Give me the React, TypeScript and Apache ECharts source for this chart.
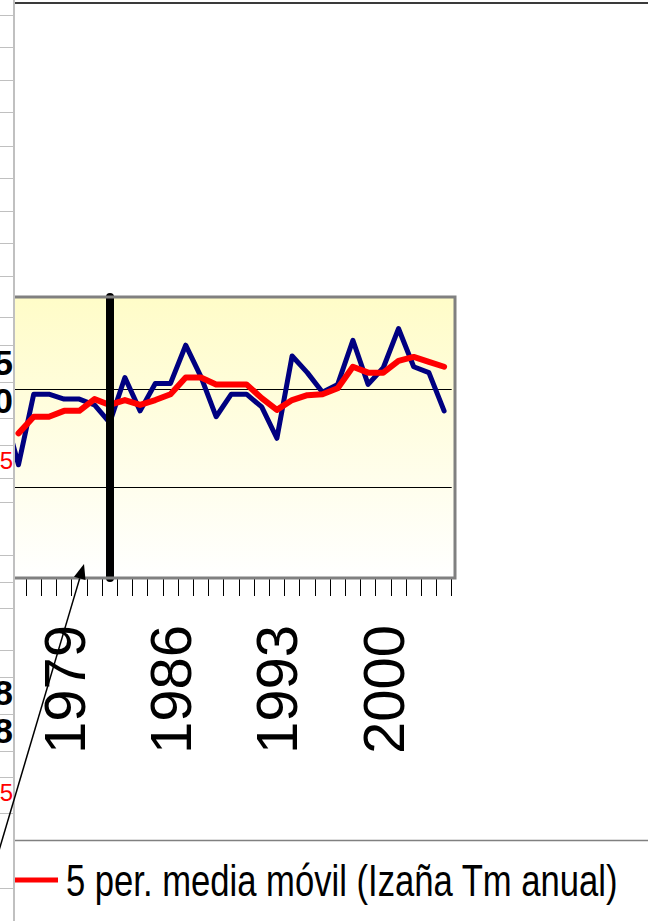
import React, { useEffect, useRef } from "react";
import * as echarts from "echarts";

// Years on the category axis (1975 sits under the frozen spreadsheet column)
const years = [
  "1975", "1976", "1977", "1978", "1979", "1980", "1981", "1982", "1983", "1984",
  "1985", "1986", "1987", "1988", "1989", "1990", "1991", "1992", "1993", "1994",
  "1995", "1996", "1997", "1998", "1999", "2000", "2001", "2002", "2003", "2004",
];

// Izaña annual mean temperature (°C)
const tmAnual = [
  9.8, 9.23, 9.95, 9.95, 9.9, 9.9, 9.84, 9.66, 10.12, 9.78,
  10.06, 10.06, 10.45, 10.13, 9.72, 9.95, 9.95, 9.82, 9.5, 10.34,
  10.17, 9.97, 10.05, 10.5, 10.05, 10.22, 10.62, 10.23, 10.17, 9.78,
];

// 5-period moving average
const mediaMovil = [
  null, 9.55, 9.72, 9.72, 9.78, 9.78, 9.9, 9.84, 9.89, 9.84,
  9.89, 9.95, 10.12, 10.12, 10.05, 10.05, 10.05, 9.91, 9.79, 9.89,
  9.94, 9.95, 10.01, 10.23, 10.17, 10.17, 10.29, 10.33, 10.28, 10.23,
];

const yearLabels = ["1979", "1986", "1993", "2000"];
const gridValues = [9, 10];
const markedYear = "1982";

const blueName = "Izaña Tm anual";
const redName = "5 per. media móvil (Izaña Tm anual)";

// Spreadsheet row boundaries in the frozen column
const rowLines = [
  15, 47, 80, 112, 146, 178, 211, 243, 276, 317, 345, 382, 418, 445, 478, 502,
  555, 582, 608, 650, 677, 714, 751, 777, 813, 888,
];

// Clipped cell contents visible in the frozen column
const cellTexts = [
  { text: "5", y: 362, bold: true, red: false },
  { text: "0", y: 400, bold: true, red: false },
  { text: "5", y: 460, bold: false, red: true },
  { text: "8", y: 692, bold: true, red: false },
  { text: "8", y: 730, bold: true, red: false },
  { text: "5", y: 792, bold: false, red: true },
];

// The chart canvas starts left of the window so the first year can hide under the frozen column
const OX = 20;

export default function App() {
  const ref = useRef<HTMLDivElement>(null);

  useEffect(() => {
    if (!ref.current) return;
    const chart = echarts.init(ref.current, null, { renderer: "svg" });

    const graphics: any[] = [
      // plot area fill and frame
      {
        type: "rect",
        shape: { x: OX, y: 297, width: 455, height: 281 },
        style: {
          fill: new echarts.graphic.LinearGradient(0, 0, 0, 1, [
            { offset: 0, color: "#FFFCC8" },
            { offset: 1, color: "#FFFFFF" },
          ]),
        },
        z: -10,
      },
      {
        type: "rect",
        shape: { x: OX, y: 297, width: 455, height: 281 },
        style: { fill: "none", stroke: "#808080", lineWidth: 3 },
        z: 50,
      },
      { type: "rect", shape: { x: 0, y: 0, width: OX + 13, height: 921 }, style: { fill: "#ffffff" }, z: 100 },
      { type: "line", shape: { x1: OX + 14, y1: 0, x2: OX + 14, y2: 921 }, style: { stroke: "#c0c0c0", lineWidth: 2 }, z: 101 },
      ...rowLines.map((y) => ({
        type: "line",
        shape: { x1: OX, y1: y + 0.5, x2: OX + 13, y2: y + 0.5 },
        style: { stroke: "#c0c0c0", lineWidth: 1 },
        z: 101,
      })),
      ...cellTexts.map((c) => ({
        type: "text",
        x: OX + 13,
        y: c.y,
        style: {
          text: c.text,
          fill: c.red ? "#ff0000" : "#000000",
          font: `${c.bold ? "bold " : ""}${c.bold ? 35 : 24}px 'Liberation Sans', Arial, sans-serif`,
          textAlign: "right",
          textVerticalAlign: "middle",
        },
        z: 102,
      })),
      { type: "line", shape: { x1: OX + 15, y1: 3, x2: OX + 648, y2: 3 }, style: { stroke: "#3a3a3a", lineWidth: 2 }, z: 101 },
      { type: "line", shape: { x1: OX + 15, y1: 840.5, x2: OX + 648, y2: 840.5 }, style: { stroke: "#808080", lineWidth: 1.5 }, z: 101 },
      // legend entry for the moving average
      { type: "line", shape: { x1: OX + 15, y1: 880, x2: OX + 58, y2: 880 }, style: { stroke: "#ff0000", lineWidth: 5 }, z: 101 },
      {
        type: "text",
        x: OX + 66,
        y: 880,
        scaleX: 0.787,
        style: {
          text: redName,
          fill: "#000000",
          font: "44px 'Liberation Sans', Arial, sans-serif",
          textAlign: "left",
          textVerticalAlign: "middle",
        },
        z: 101,
      },
      // annotation arrow
      { type: "line", shape: { x1: OX - 4, y1: 860.5, x2: OX + 79.7, y2: 578.4 }, style: { stroke: "#000000", lineWidth: 1.5 }, z: 110 },
      {
        type: "polygon",
        shape: { points: [[OX + 84, 564], [OX + 85.5, 580.1], [OX + 74, 576.7]] },
        style: { fill: "#000000" },
        z: 110,
      },
    ];

    chart.setOption({
      animation: false,
      backgroundColor: "#ffffff",
      grid: {
        left: OX - 4.3,
        top: 297,
        width: 456,
        height: 281,
        show: false,
      },
      xAxis: {
        type: "category",
        data: years,
        boundaryGap: true,
        axisLine: { show: false },
        axisTick: { show: true, interval: 0, length: 18, lineStyle: { color: "#000000", width: 1 } },
        axisLabel: {
          interval: (_i: number, v: string) => yearLabels.includes(v),
          rotate: 90,
          margin: 47,
          fontSize: 58,
          fontFamily: "'Liberation Sans', Arial, sans-serif",
          color: "#000000",
        },
        splitLine: { show: false },
      },
      yAxis: { type: "value", min: 8.074, max: 10.942, show: false },
      series: [
        {
          name: blueName,
          type: "line",
          data: tmAnual,
          symbol: "none",
          z: 2,
          lineStyle: { color: "#000080", width: 5, join: "round", cap: "round" },
          itemStyle: { color: "#000080" },
          markLine: {
            silent: true,
            z: 1,
            symbol: "none",
            label: { show: false },
            lineStyle: { color: "#000000", width: 1, type: "solid" },
            data: gridValues.map((v) => ({ yAxis: v })),
          },
        },
        {
          name: redName,
          type: "line",
          data: mediaMovil,
          symbol: "none",
          z: 3,
          lineStyle: { color: "#ff0000", width: 6, join: "round", cap: "round" },
          itemStyle: { color: "#ff0000" },
          markLine: {
            silent: true,
            z: 10,
            symbol: "none",
            label: { show: false },
            lineStyle: { color: "#000000", width: 8, type: "solid", cap: "round" },
            data: [{ xAxis: markedYear }],
          },
        },
      ],
      graphic: graphics,
    });

    return () => chart.dispose();
  }, []);

  return (
    <div
      ref={ref}
      style={{ position: "absolute", left: -OX, top: 0, width: 648 + OX, height: 921 }}
    />
  );
}
